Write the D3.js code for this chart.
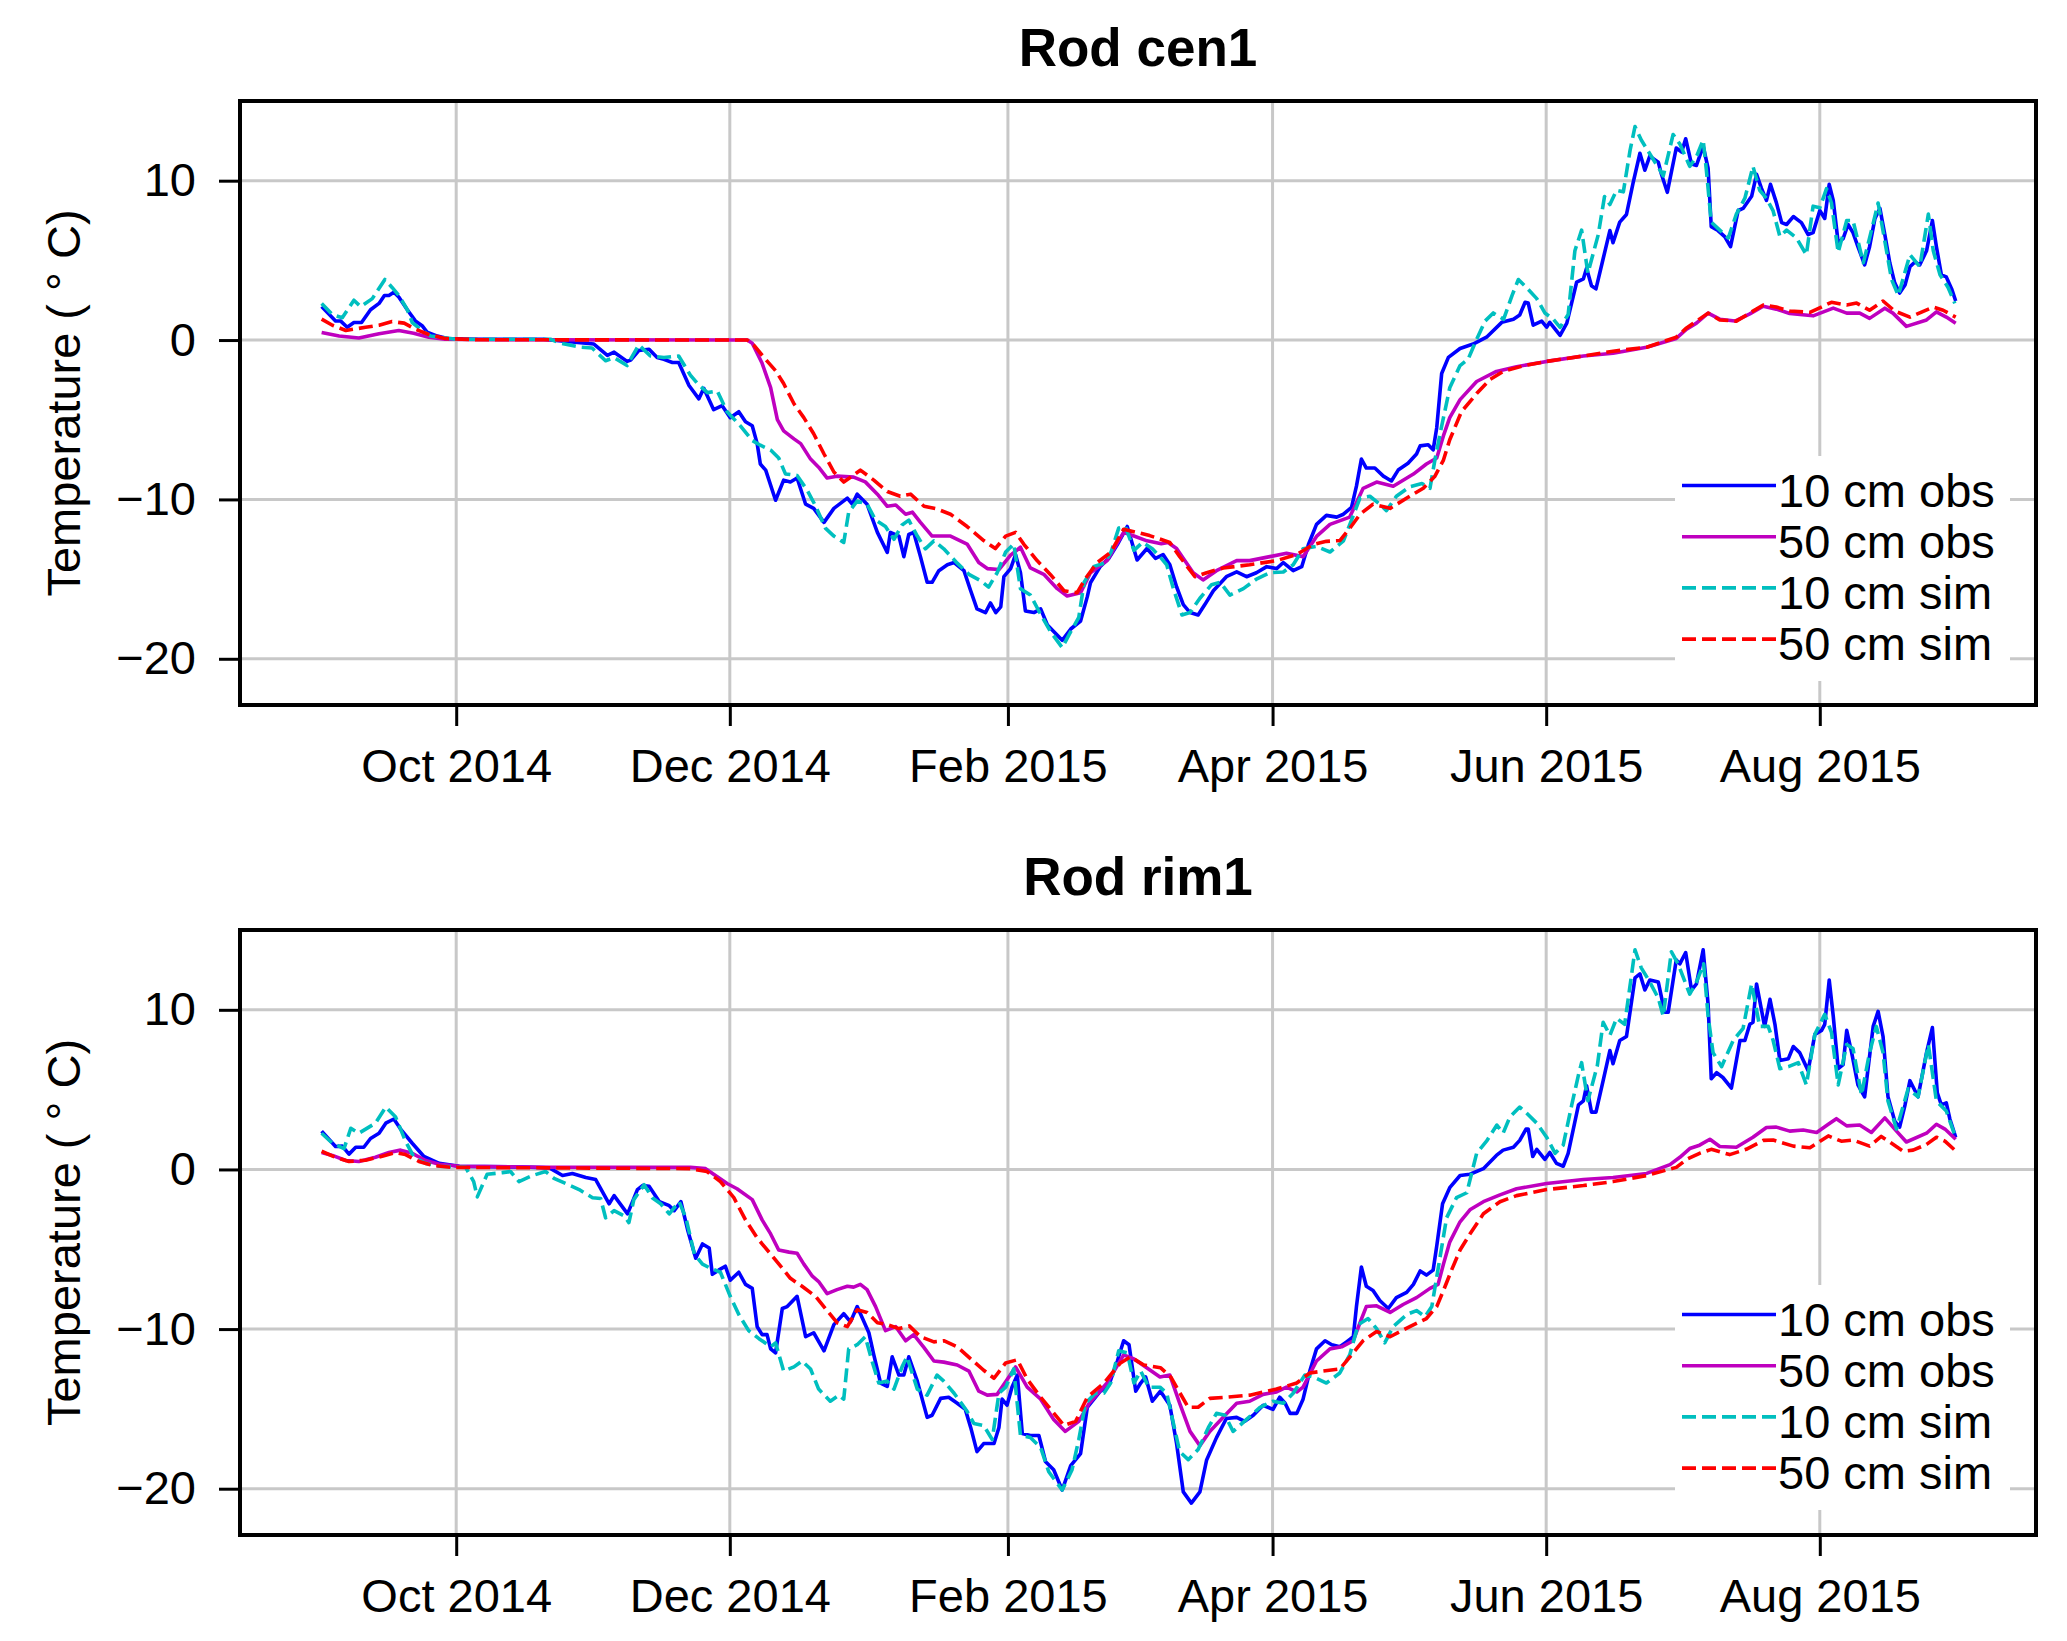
<!DOCTYPE html>
<html><head><meta charset="utf-8">
<script src="https://cdn.jsdelivr.net/npm/d3@7"></script>
<style>
body{margin:0;background:#fff}
svg{display:block}
text{font-family:"Liberation Sans",Arial,Helvetica,sans-serif;fill:#000}
</style>
</head><body>
<svg id="chart" width="2067" height="1641"></svg>
<script>
// ---------- data (day offset from 2014-09-01, temperature in °C) ----------
const startDay = "2014-09-01";
const panelTitles = ["Rod cen1", "Rod rim1"];
const seriesNames = ["10 cm obs", "50 cm obs", "10 cm sim", "50 cm sim"];
const xTickDates = ["2014-10-01","2014-12-01","2015-02-01","2015-04-01","2015-06-01","2015-08-01"];
const xTickLabels = ["Oct 2014","Dec 2014","Feb 2015","Apr 2015","Jun 2015","Aug 2015"];
const yTickValues = [-20, -10, 0, 10];
const yLabel = "Temperature ( \u00B0 C)";

const cen1Obs10 = [[0,2.1],[3.1,1.2],[4.2,1.2],[5.7,0.8],[7.2,1.1],[8.9,1.1],[10.9,1.9],[12.8,2.3],[14,2.8],[15,2.8],[16.1,3.0],[17.2,2.7],[19.1,1.9],[20.9,1.2],[22.4,0.9],[23.5,0.5],[25.8,0.25],[28,0.1],[35,0.05],[49.5,0.05],[54,-0.08],[60.7,-0.25],[63.7,-0.96],[65.2,-0.76],[68.1,-1.34],[68.9,-1.26],[70.7,-0.66],[73,-0.58],[74.8,-1.09],[76.3,-1.21],[78.2,-1.41],[79.6,-1.41],[81.9,-2.85],[84.1,-3.69],[85.2,-3.03],[87.4,-4.37],[89.3,-4.12],[91.1,-4.87],[93,-4.5],[94.5,-5.13],[96,-5.38],[97.1,-6.5],[97.8,-7.78],[99,-8.16],[101.2,-10.05],[103,-8.79],[104.5,-8.91],[106,-8.66],[107.9,-10.3],[109.7,-10.56],[112,-11.44],[114.2,-10.56],[117.2,-9.92],[118.3,-10.3],[119.4,-9.67],[121.6,-10.3],[123.9,-12.07],[126.1,-13.33],[126.8,-12.07],[128.7,-12.3],[129.8,-13.59],[130.9,-12.2],[132,-12.07],[133.5,-13.59],[135,-15.2],[136.1,-15.2],[137.6,-14.47],[139.5,-14.1],[141,-13.96],[143.2,-14.47],[144.7,-15.73],[146.1,-16.87],[148,-17.1],[149.1,-16.5],[150.3,-17.1],[151.4,-16.74],[152.1,-14.85],[153.6,-14.34],[154.7,-13.46],[155.8,-14.6],[156.9,-17.0],[158.8,-17.1],[160.3,-16.87],[161.8,-17.88],[165.1,-18.84],[167,-18.13],[169.2,-17.63],[170.7,-16.1],[171.4,-15.23],[173.6,-14.2],[175.5,-13.7],[177.4,-12.83],[179.6,-11.7],[181.8,-13.8],[184,-13.08],[185.9,-13.7],[187.6,-13.46],[189.1,-14.1],[190.6,-15.48],[192.1,-16.6],[193.6,-17.1],[195.4,-17.25],[196.9,-16.6],[198.8,-15.73],[201.7,-14.85],[204,-14.55],[206.2,-14.85],[208.4,-14.6],[210.7,-14.22],[212.9,-14.34],[214.4,-13.96],[216.6,-14.47],[218.5,-14.22],[220,-12.83],[221.8,-11.57],[224,-11.0],[226.3,-11.11],[227.8,-10.93],[229.6,-10.5],[230.7,-9.17],[231.8,-7.47],[232.9,-8.03],[234.8,-8.03],[236.7,-8.54],[238.5,-8.84],[240,-8.16],[242.2,-7.73],[244.1,-7.15],[244.9,-6.64],[246.7,-6.57],[247.8,-6.89],[248.6,-5.5],[249.7,-2.1],[251.2,-1.09],[253.8,-0.53],[256.7,-0.25],[259.7,0.18],[263.1,1.11],[265.7,1.31],[267.1,1.57],[268.3,2.37],[269,2.32],[270.1,0.93],[272,1.19],[273.1,0.81],[273.8,1.11],[276.1,0.3],[277.6,1.06],[279.8,3.64],[281.3,3.84],[282,4.5],[283.1,3.41],[284.1,3.21],[285.7,5.1],[287.2,6.87],[287.9,6.11],[289.4,7.4],[290.9,7.88],[292.4,9.9],[293.9,11.72],[295,10.66],[296.1,11.54],[298,11.16],[298.7,10.4],[300,9.27],[302,12.05],[303.2,11.8],[304.1,12.63],[305.4,11.04],[306.5,10.96],[308,12.17],[309.1,10.78],[309.8,7.12],[311.3,6.87],[312.8,6.49],[314.1,5.86],[315.8,8.13],[316.9,8.26],[318.8,9.02],[319.9,10.4],[321,9.52],[322.1,8.76],[323,9.77],[324.3,8.64],[325.5,7.37],[326.6,7.25],[328.1,7.75],[329.9,7.37],[331.4,6.62],[332.5,6.74],[334,8.13],[335.1,7.63],[336.1,9.77],[337,8.76],[338.1,6.11],[339.2,6.36],[340.3,7.25],[341.4,6.74],[342.5,5.86],[344,4.72],[345.1,5.86],[346.3,7.63],[347.4,8.26],[348.5,6.62],[349.6,4.85],[350.7,3.59],[351.8,2.95],[353,3.46],[354.1,4.6],[355.2,4.9],[356.3,4.72],[357.8,5.6],[359.1,7.5],[360,5.86],[361.1,4.09],[362.2,3.96],[363.4,3.21],[364.3,2.45]];

const cen1Obs50 = [[0,0.48],[3.9,0.25],[8.3,0.13],[12.8,0.4],[17.2,0.6],[20.5,0.43],[23.9,0.18],[27.5,0.05],[40,0.02],[94.9,0],[96,-0.2],[98.2,-1.46],[100.1,-2.98],[101.6,-5.0],[103,-5.7],[105.3,-6.2],[106.8,-6.5],[109,-7.47],[110.8,-7.98],[112.7,-8.66],[114.9,-8.54],[118.6,-8.6],[121.2,-8.9],[123.9,-9.67],[126.1,-10.43],[128,-10.35],[130.2,-10.93],[131.7,-10.8],[133.5,-11.44],[136.1,-12.3],[140.2,-12.3],[143.9,-12.8],[146.5,-13.96],[148.4,-14.34],[151,-14.4],[153.6,-13.5],[155.8,-13.0],[158,-14.3],[161,-14.7],[164,-15.6],[166.2,-16.06],[169.2,-15.86],[171.4,-14.6],[175.1,-13.84],[178.8,-12.07],[181.1,-12.3],[184,-12.6],[187.2,-12.78],[188.7,-12.7],[190.6,-13.08],[194.3,-14.6],[196.5,-15.05],[199.5,-14.47],[204,-13.84],[206.9,-13.84],[211.4,-13.59],[215.1,-13.38],[218.8,-13.59],[221.8,-12.32],[224.8,-11.57],[229.2,-11.11],[232.2,-9.3],[235.2,-8.91],[238.9,-9.17],[243.4,-8.41],[246.3,-7.78],[248.6,-7.4],[250.1,-6.0],[251.5,-4.87],[253.8,-3.74],[257.5,-2.6],[261.9,-1.97],[266.4,-1.67],[273.1,-1.34],[281.3,-1.0],[287.9,-0.83],[295.4,-0.45],[302,0.1],[304.3,0.68],[306.5,1.06],[309.1,1.69],[311.7,1.31],[315.1,1.19],[318.4,1.64],[321.4,2.12],[324.3,1.94],[327.3,1.67],[332.5,1.52],[337,2.0],[340,1.69],[342.9,1.69],[345.1,1.36],[348.5,2.0],[350.3,1.69],[353.3,0.86],[357.8,1.26],[360,1.77],[362.2,1.44],[364.3,1.06]];

const cen1Sim10 = [[0,2.3],[2.4,1.6],[4.6,1.4],[7.2,2.5],[8.7,2.1],[11.3,2.6],[14.1,3.8],[15.7,3.3],[17.2,2.8],[19.1,1.9],[20.2,1.1],[22.4,0.6],[24.3,0.25],[30,0.05],[51,0.05],[53.3,-0.2],[57.7,-0.45],[60.3,-0.5],[63.3,-1.3],[65.2,-1.1],[68.1,-1.6],[70.7,-0.3],[73.3,-1.0],[76.3,-1.1],[79.6,-1.0],[82.2,-2.2],[83.7,-2.7],[86,-3.3],[88.2,-3.2],[90.4,-4.5],[93.4,-5.4],[96,-6.3],[97.8,-6.6],[100.1,-6.9],[101.9,-7.4],[103.4,-8.4],[106,-8.5],[108.2,-9.4],[110.1,-10.4],[112.3,-11.8],[114.2,-12.3],[116.4,-12.7],[117.5,-10.8],[119.4,-10.1],[121.6,-10.3],[123.5,-11.3],[125.7,-11.7],[127.6,-12.5],[129.4,-11.6],[130.9,-11.3],[132.8,-12.3],[134.6,-13.1],[136.5,-12.6],[138.7,-13.1],[141.7,-14.0],[144.3,-14.7],[146.9,-15.1],[148.7,-15.5],[150.6,-14.6],[152.5,-13.3],[154.3,-12.8],[155.8,-15.6],[158,-16.0],[159.9,-17.0],[162.5,-18.3],[165.1,-19.3],[167,-18.3],[168.8,-17.4],[170,-15.2],[172.2,-14.2],[174.5,-14.0],[176,-13.3],[177.7,-11.8],[179.2,-11.7],[181.1,-13.2],[183,-12.7],[185.2,-13.1],[187.2,-13.7],[188.4,-14.1],[189.9,-15.6],[191.8,-17.25],[193.6,-17.1],[195.8,-16.2],[198.4,-15.35],[200.3,-15.2],[202.5,-16.0],[205.5,-15.6],[208.4,-15.0],[211.4,-14.6],[214.4,-14.55],[216.6,-14.1],[218.8,-13.1],[221.8,-12.95],[224.8,-13.3],[227.8,-12.6],[229.6,-11.3],[231.5,-9.9],[233.7,-9.8],[235.9,-10.3],[237.4,-10.7],[239.6,-9.8],[242.6,-9.2],[245.3,-9.0],[247.1,-9.3],[248.2,-7.5],[249.7,-5.4],[251.5,-3.0],[253.8,-1.6],[255.6,-1.2],[257.5,0.05],[259.4,1.2],[261.2,1.7],[263.5,1.3],[265.4,2.8],[266.8,3.8],[268.6,3.3],[270.9,2.6],[272.7,1.7],[274.6,1.3],[276.1,0.8],[277.9,1.6],[279.4,5.6],[280.9,6.9],[282.3,4.2],[284.6,6.6],[286,9.0],[287.2,8.5],[288.7,9.4],[290.2,9.3],[291.7,11.9],[292.8,13.4],[294.2,12.55],[296.5,11.5],[298.3,10.7],[299.1,10.3],[301.3,12.9],[302.8,12.3],[305,10.9],[306.5,11.5],[308,12.55],[308.7,10.7],[309.8,7.4],[311.7,6.9],[313.6,6.4],[315.4,7.9],[317.3,8.9],[319.1,10.9],[320.6,9.4],[322.1,8.9],[323.6,8.1],[325.1,6.5],[326.6,6.9],[328.8,6.4],[331,5.35],[332.5,8.4],[334,8.3],[335.5,9.5],[336.6,8.6],[338.1,5.5],[340,7.5],[341.4,7.5],[343.7,4.85],[345.1,6.4],[347,8.6],[348.5,6.2],[350,3.8],[351.5,2.8],[354.1,5.35],[356.3,4.6],[358.2,7.9],[359.3,5.6],[360.8,4.1],[362.6,3.3],[364.1,2.3]];

const cen1Sim50 = [[0,1.31],[2.4,0.93],[5.4,0.6],[9.8,0.8],[12.8,0.93],[15.7,1.16],[18.4,1.06],[20.9,0.68],[23.9,0.35],[27.5,0.1],[35,0.02],[94.9,0],[96.4,-0.33],[98.6,-1.09],[101.2,-1.92],[103,-2.73],[105.3,-4.0],[107.5,-4.87],[109.7,-5.88],[112,-7.15],[114.2,-8.28],[116.4,-8.91],[118.3,-8.54],[120.1,-8.16],[123.1,-8.79],[126.1,-9.5],[129,-9.8],[131.3,-9.67],[134.3,-10.43],[137.2,-10.6],[140.2,-10.93],[143.9,-11.7],[147.6,-12.58],[150.2,-13.08],[152.5,-12.3],[154.7,-12.07],[156.6,-12.83],[159.5,-13.84],[162.5,-14.72],[165.5,-15.73],[168.4,-15.86],[170.3,-14.97],[172.9,-13.96],[175.9,-13.33],[178.8,-11.87],[181.8,-12.07],[184.6,-12.27],[189.1,-12.7],[191.3,-13.59],[194.7,-14.85],[197.3,-14.6],[201,-14.3],[206.9,-14.1],[212.9,-13.84],[217.4,-13.46],[221.1,-12.83],[224,-12.63],[227,-12.58],[229.2,-11.82],[231.5,-10.93],[234.4,-10.3],[238.2,-10.56],[242.6,-9.8],[245.6,-9.3],[248.2,-8.54],[250.1,-7.53],[251.5,-6.26],[254.1,-4.5],[257.5,-3.36],[260.5,-2.47],[263.4,-1.97],[267.9,-1.62],[273.1,-1.34],[281.3,-1.0],[287.9,-0.7],[295.4,-0.45],[302,0.18],[304.3,0.76],[309.1,1.69],[311.7,1.26],[315.4,1.19],[321.4,2.2],[324.3,2.07],[327.3,1.82],[331.8,1.74],[336.6,2.37],[340,2.2],[342.2,2.32],[345.1,1.87],[348.1,2.45],[350.7,1.82],[354.1,1.44],[359.3,2.07],[361.5,1.87],[364.3,1.44]];

const rim1Obs10 = [[0,2.4],[3.1,1.44],[4.6,1.46],[6.1,0.96],[7.6,1.39],[9.4,1.39],[10.9,1.94],[12.8,2.27],[14.3,2.9],[16.1,3.16],[17.6,2.53],[20.2,1.64],[22.8,0.81],[26.2,0.38],[30.7,0.2],[45,0.15],[50.8,0.1],[53.7,-0.38],[55.9,-0.25],[58.9,-0.5],[61.1,-0.63],[64.1,-2.15],[65.2,-1.64],[68.2,-2.78],[70.4,-1.26],[71.6,-1.0],[73,-1.06],[75.3,-2.02],[77.5,-2.27],[78.6,-2.58],[80.1,-2.02],[81.6,-3.79],[83.4,-5.56],[84.9,-4.67],[86.4,-4.92],[87.1,-6.57],[88.5,-6.31],[90,-6.06],[91.1,-6.94],[93,-6.44],[94.5,-7.2],[96,-7.45],[97.1,-9.85],[98.2,-10.35],[99.3,-10.35],[100.1,-11.24],[101.2,-11.49],[102.7,-8.71],[103.8,-8.59],[106,-7.95],[107.9,-10.48],[109.7,-10.23],[112,-11.36],[114.2,-9.72],[116.4,-9.04],[117.9,-9.55],[119.4,-8.59],[122,-10.23],[123.1,-11.62],[124.6,-13.38],[126.1,-13.59],[127.2,-11.74],[128.7,-12.88],[129.8,-12.88],[130.9,-11.74],[132.8,-13.26],[135,-15.53],[136.1,-15.4],[138,-14.34],[139.8,-14.27],[141.7,-14.65],[143.5,-15.03],[144.7,-16.16],[146.1,-17.68],[147.6,-17.17],[148.7,-17.17],[149.9,-17.17],[151,-16.16],[151.7,-14.39],[152.8,-14.77],[153.9,-13.64],[155.1,-12.88],[156.2,-16.54],[158,-16.67],[159.9,-16.67],[161.4,-18.31],[163.2,-18.81],[165.1,-20.08],[167,-18.56],[169.2,-17.8],[170.7,-14.9],[173.6,-13.89],[175.5,-13.51],[177.4,-12.0],[178.8,-10.73],[180,-10.98],[181.5,-13.89],[182.6,-13.38],[183.7,-13.0],[185.2,-14.52],[187,-13.89],[189.1,-14.77],[190.6,-17.17],[192.1,-20.2],[193.9,-20.9],[195.8,-20.2],[197.3,-18.2],[199.5,-16.8],[201.7,-15.6],[204,-15.53],[205.8,-15.78],[207.7,-15.4],[209.9,-14.77],[212.1,-15.03],[213.6,-14.27],[214.8,-14.65],[215.9,-15.28],[217.4,-15.28],[218.8,-14.39],[220.3,-12.63],[221.8,-11.24],[223.7,-10.73],[225.2,-10.98],[227,-11.11],[228.5,-10.8],[230,-10.48],[230.7,-8.59],[231.8,-6.11],[232.9,-7.32],[234.4,-7.58],[235.9,-8.21],[237.8,-8.71],[239.6,-8.03],[241.9,-7.7],[243.4,-7.2],[244.9,-6.36],[246.3,-6.62],[247.8,-6.31],[248.6,-4.8],[249.9,-2.15],[251.5,-1.14],[253.8,-0.38],[256,-0.3],[259,0.05],[261.9,0.88],[263.4,1.21],[265.7,1.39],[267.1,1.82],[268.5,2.53],[269,2.53],[270,0.81],[270.9,1.26],[272.7,0.63],[273.8,1.06],[275.3,0.38],[276.8,0.2],[277.9,1.01],[280.2,4.04],[281.3,4.29],[282,5.25],[283.1,3.59],[284.1,3.59],[285.7,5.56],[287.2,7.45],[287.9,6.62],[289.4,8.08],[290.9,8.33],[292.8,12.0],[293.9,12.25],[295,11.24],[296.1,11.87],[298,11.74],[299.4,9.85],[300.2,9.85],[302,13.13],[302.8,12.88],[304.1,13.59],[305.4,11.24],[306.5,11.62],[308,13.76],[309.1,10.35],[309.8,5.68],[311,6.06],[312.4,5.76],[314.3,5.1],[316.2,8.08],[317.3,8.08],[318.4,9.09],[319.1,9.22],[319.9,11.62],[321.7,8.96],[322.9,10.66],[324,9.09],[325.1,6.82],[327,6.94],[328.1,7.7],[329.5,7.32],[331.4,6.19],[332.9,8.46],[334.4,8.71],[335.1,9.09],[336.1,11.87],[337,9.6],[338.1,6.31],[339.2,6.57],[340,8.71],[341.1,7.32],[342.5,5.3],[344,4.55],[345.9,8.96],[347,9.9],[348.1,8.33],[349.2,4.55],[350.7,3.03],[351.8,2.65],[353,4.04],[354.1,5.56],[355.9,4.55],[357.8,7.32],[359.1,8.89],[360.2,4.8],[361.1,4.04],[362.2,4.17],[363,3.16],[364.3,2.02]];

const rim1Obs50 = [[0,1.06],[2.4,0.88],[5.4,0.56],[8.3,0.5],[12,0.76],[15,1.06],[17.6,1.21],[20.2,1.01],[23.2,0.56],[26.2,0.33],[30.7,0.2],[50,0.14],[82.2,0.13],[85.6,0.05],[87.8,-0.38],[90.4,-0.88],[92.6,-1.21],[96,-1.89],[98.2,-3.16],[100.1,-4.04],[101.9,-5.05],[104.2,-5.18],[106,-5.25],[107.5,-5.93],[109.4,-6.69],[110.8,-7.02],[112.7,-7.78],[114.9,-7.53],[117.2,-7.32],[118.6,-7.37],[120.1,-7.2],[121.6,-7.53],[123.5,-8.59],[125.7,-10.1],[128,-9.85],[130.2,-10.73],[132,-10.35],[134.3,-11.16],[136.5,-12.0],[138.7,-12.07],[141.7,-12.25],[144.3,-12.63],[146.5,-13.89],[148.4,-14.14],[150.6,-14.09],[152.8,-13.18],[154.7,-12.37],[157.3,-13.64],[160.3,-14.39],[163.2,-15.66],[165.8,-16.41],[168.8,-15.78],[171.1,-14.65],[175.1,-13.38],[178.8,-11.62],[181.1,-11.87],[183.7,-12.37],[186.9,-13.0],[189.1,-12.88],[191.3,-14.65],[193.6,-16.41],[195.8,-17.3],[198,-16.41],[201,-15.53],[204,-14.65],[206.9,-14.52],[209.9,-14.09],[212.9,-13.94],[215.1,-13.64],[217.4,-13.94],[218.8,-13.64],[221.8,-12.0],[224.8,-11.24],[227.4,-11.11],[230,-10.73],[231.5,-9.6],[232.9,-8.59],[235.2,-8.54],[238.2,-8.96],[241.1,-8.46],[244.1,-8.03],[247.1,-7.45],[248.9,-7.2],[250.1,-5.93],[251.5,-4.55],[253.8,-3.28],[256,-2.53],[259,-2.02],[262.7,-1.59],[266.4,-1.21],[273.1,-0.88],[281.3,-0.63],[287.9,-0.5],[295.4,-0.25],[300.6,0.3],[302.8,0.76],[305,1.31],[307.2,1.52],[309.5,1.89],[311.7,1.44],[315.4,1.39],[319.1,2.02],[322.1,2.63],[324.3,2.65],[327.3,2.4],[330.3,2.47],[333.3,2.32],[335.9,2.83],[337.7,3.18],[340,2.73],[342.9,2.78],[345.5,2.32],[348.5,3.23],[351.1,2.4],[353.3,1.72],[357.8,2.27],[360,2.83],[361.9,2.53],[364.3,1.89]];

const rim1Sim10 = [[0,2.27],[2.4,1.64],[5,1.31],[6.5,2.58],[8.3,2.27],[12,2.9],[14.3,3.91],[16.5,3.28],[18.7,1.77],[20.6,0.76],[23.2,0.38],[26.2,0.2],[32.1,0.13],[33.9,-0.76],[34.7,-1.72],[36.9,-0.3],[40.3,-0.2],[42.1,-0.13],[44,-0.76],[47,-0.38],[49.9,-0.13],[51.8,-0.56],[54.4,-0.88],[57.4,-1.26],[60.4,-1.77],[62.2,-1.82],[63.3,-3.03],[65.2,-2.58],[67.4,-2.9],[68.5,-3.33],[69.6,-1.89],[71.9,-0.96],[73.7,-1.77],[75.6,-2.15],[77.5,-2.78],[79.7,-2.02],[81.2,-3.03],[83.1,-5.3],[84.9,-5.93],[86.7,-6.19],[88.9,-6.44],[91.1,-7.95],[93,-9.09],[95.2,-10.1],[97.5,-10.6],[100.1,-11.11],[101.2,-10.86],[103,-12.63],[105.3,-12.37],[107.1,-12.0],[109,-12.5],[110.8,-13.76],[113.4,-14.52],[115.3,-14.14],[116.4,-14.39],[117.5,-11.24],[119.4,-10.98],[121.2,-10.48],[122.7,-12.0],[124.2,-13.38],[126.1,-13.26],[127.6,-13.76],[129.4,-12.37],[130.5,-11.74],[132.8,-13.76],[135,-14.14],[137.2,-12.88],[138.7,-13.26],[141,-14.02],[143.9,-15.15],[145.4,-15.91],[147.6,-16.04],[149.5,-16.92],[151,-14.02],[152.5,-13.64],[154.3,-12.5],[155.8,-16.67],[158,-16.79],[160.3,-17.42],[162.1,-18.94],[165.1,-20.08],[167.3,-18.81],[168.8,-16.92],[170.3,-14.65],[172.5,-14.02],[174.4,-14.02],[175.9,-13.38],[177.7,-11.36],[179.6,-11.49],[181.1,-13.38],[182.6,-12.63],[184.4,-13.64],[186.9,-13.64],[188.4,-14.02],[189.9,-15.91],[191.3,-17.68],[193.2,-18.18],[195.4,-17.55],[197.7,-16.16],[199.5,-15.28],[201.4,-15.4],[203.2,-16.41],[206.2,-15.66],[209.2,-14.9],[212.1,-14.52],[214.4,-14.65],[216.6,-14.02],[219.2,-12.88],[221.1,-13.0],[224,-13.38],[227,-12.75],[229.2,-11.62],[231.1,-9.72],[233.3,-9.34],[235.2,-9.97],[237,-10.86],[238.9,-9.85],[241.9,-9.09],[244.1,-8.84],[246,-9.22],[247.5,-8.59],[249.3,-5.56],[250.8,-3.03],[253,-1.77],[255.3,-1.46],[257.5,1.01],[259.7,1.77],[262,2.78],[263.4,2.27],[264.9,3.28],[267.1,3.91],[268.6,3.54],[270.9,2.9],[273.1,2.02],[275,1.01],[276.8,1.52],[278.7,4.04],[280.2,5.93],[280.9,6.69],[282.3,4.3],[284.4,6.5],[285.7,9.22],[287.2,8.4],[288.7,9.47],[290.5,9.09],[292.8,13.76],[294.2,12.63],[296.1,11.74],[298,10.73],[299.1,9.6],[300.9,13.64],[302.4,12.88],[305,10.98],[306.5,11.74],[308.1,12.88],[309.1,9.6],[310.2,7.32],[312.1,6.44],[314.7,8.08],[316.9,8.84],[318.8,11.62],[320.6,8.96],[322.5,8.96],[323.6,8.08],[325.1,6.31],[327,6.44],[329.2,6.69],[331,5.3],[332.9,8.46],[335.1,9.72],[336.6,8.59],[338.1,5.3],[340,7.83],[341.4,7.58],[343.3,4.67],[345.1,7.32],[346.6,8.96],[348.1,7.32],[349.2,4.29],[351.1,2.53],[353.7,5.05],[355.9,4.55],[358.2,7.83],[360,4.29],[362.2,3.66],[364.1,2.15]];

const rim1Sim50 = [[0,1.14],[3.1,0.76],[6.1,0.5],[9.8,0.58],[13.5,0.83],[16.5,1.06],[18.7,0.93],[21.7,0.5],[24.7,0.25],[29.1,0.13],[50,0.1],[82.2,0.05],[85.9,-0.13],[88.9,-0.76],[91.9,-1.77],[94.5,-3.16],[97.1,-4.29],[100.1,-5.3],[102.7,-6.19],[104.5,-6.82],[107.1,-7.32],[110.1,-7.95],[112.3,-8.71],[114.9,-9.6],[117.2,-9.85],[119.4,-8.79],[121.6,-8.96],[123.9,-9.6],[126.1,-9.72],[128.7,-9.97],[131,-9.8],[133.5,-10.48],[136.5,-10.8],[138.7,-10.73],[141.7,-11.11],[144.7,-11.87],[147.6,-12.58],[149.9,-13.08],[152.5,-12.12],[155.1,-11.92],[157.3,-13.13],[160.3,-14.27],[162.9,-15.15],[165.5,-16.04],[168.1,-15.78],[170.7,-14.27],[174.4,-13.38],[178.1,-12.12],[180.3,-11.74],[183.3,-12.25],[187,-12.42],[189.3,-13.0],[190.6,-13.64],[193.2,-14.9],[195.4,-14.9],[198,-14.34],[201.7,-14.27],[206.9,-14.14],[212.9,-13.76],[217.4,-13.38],[220.3,-12.75],[223.3,-12.63],[227,-12.5],[229.6,-11.62],[232.2,-10.73],[235.2,-10.15],[238.2,-10.48],[242.6,-9.85],[246.3,-9.34],[248.6,-8.59],[250.1,-7.58],[251.9,-6.31],[253.8,-5.05],[256,-4.04],[259,-2.78],[262.7,-2.02],[266.4,-1.64],[273.1,-1.26],[281.3,-1.01],[287.9,-0.76],[295.4,-0.38],[302,0.13],[304.3,0.63],[307.2,1.01],[309.8,1.26],[313.9,0.93],[317.6,1.26],[321.4,1.82],[323.6,1.84],[328.1,1.46],[331.8,1.36],[335.9,2.1],[338.8,1.77],[341.4,1.84],[345.1,1.46],[347.7,2.07],[350,1.64],[352.6,1.14],[354.8,1.21],[357.8,1.57],[360,2.02],[361.9,1.77],[364.1,1.21]];

// ---------- styles & layout ----------
const seriesStyle = [
  {color: "#0000ff", dash: null},
  {color: "#bf00bf", dash: null},
  {color: "#00bfbf", dash: "14,6"},
  {color: "#ff0000", dash: "14,6"}
];
const panels = [
  {title: panelTitles[0], series: [cen1Obs10, cen1Obs50, cen1Sim10, cen1Sim50], top: 101, bottom: 705, titleY: 66},
  {title: panelTitles[1], series: [rim1Obs10, rim1Obs50, rim1Sim10, rim1Sim50], top: 930, bottom: 1535, titleY: 895}
];
const left = 240, right = 2036;
const FS = 47;

const svg = d3.select("#chart");
const parseDay = d3.utcParse("%Y-%m-%d");
const t0 = parseDay(startDay).getTime();
const DAY = 864e5;
const toDate = d => new Date(t0 + d * DAY);

const lastDay = 364, pad = lastDay * 0.05;
const x = d3.scaleUtc().domain([toDate(-pad), toDate(lastDay + pad)]).range([left, right]);
const tickDates = xTickDates.map(parseDay);

panels.forEach(p => {
  const y = d3.scaleLinear().domain([-22.9, 15]).range([p.bottom, p.top]);
  const g = svg.append("g");

  // grid
  g.append("g").selectAll("line").data(tickDates).join("line")
    .attr("x1", d => x(d)).attr("x2", d => x(d))
    .attr("y1", p.top).attr("y2", p.bottom)
    .attr("stroke", "#c8c8c8").attr("stroke-width", 3);
  g.append("g").selectAll("line").data(yTickValues).join("line")
    .attr("x1", left).attr("x2", right)
    .attr("y1", d => y(d)).attr("y2", d => y(d))
    .attr("stroke", "#c8c8c8").attr("stroke-width", 3);

  // lines
  const line = d3.line().x(d => x(toDate(d[0]))).y(d => y(d[1])).curve(d3.curveLinear);
  p.series.forEach((s, i) => {
    g.append("path").datum(s)
      .attr("d", line)
      .attr("fill", "none")
      .attr("stroke", seriesStyle[i].color)
      .attr("stroke-width", 3.6)
      .attr("stroke-linejoin", "round")
      .attr("stroke-dasharray", seriesStyle[i].dash);
  });

  // legend
  const lgTop = p.top + 355;
  g.append("rect").attr("x", 1675).attr("y", lgTop).attr("width", 335).attr("height", 225).attr("fill", "#fff");
  seriesNames.forEach((name, i) => {
    const ly = p.top + 384.5 + i * 51.2;
    g.append("line").attr("x1", 1682).attr("x2", 1776).attr("y1", ly).attr("y2", ly)
      .attr("stroke", seriesStyle[i].color).attr("stroke-width", 3.6)
      .attr("stroke-dasharray", seriesStyle[i].dash);
    g.append("text").attr("x", 1778).attr("y", ly + 21).attr("font-size", FS).text(name);
  });

  // axes
  const xAxis = d3.axisBottom(x).tickValues(tickDates)
    .tickFormat((d, i) => xTickLabels[i]).tickSize(21).tickPadding(22.5);
  const gx = g.append("g").attr("transform", `translate(0,${p.bottom})`).call(xAxis);
  gx.select(".domain").remove();
  gx.selectAll(".tick line").attr("stroke", "#000").attr("stroke-width", 3);
  gx.selectAll(".tick text").attr("font-size", FS).attr("font-family", null).attr("fill", "#000");

  const yAxis = d3.axisLeft(y).tickValues(yTickValues).tickSize(21).tickPadding(23);
  const gy = g.append("g").attr("transform", `translate(${left},0)`).call(yAxis);
  gy.select(".domain").remove();
  gy.selectAll(".tick line").attr("stroke", "#000").attr("stroke-width", 3);
  gy.selectAll(".tick text").attr("font-size", FS).attr("font-family", null).attr("fill", "#000");

  // frame
  g.append("rect").attr("x", left).attr("y", p.top)
    .attr("width", right - left).attr("height", p.bottom - p.top)
    .attr("fill", "none").attr("stroke", "#000").attr("stroke-width", 4);

  // y label
  g.append("text")
    .attr("transform", `translate(80,${(p.top + p.bottom) / 2}) rotate(-90)`)
    .attr("text-anchor", "middle").attr("font-size", FS).text(yLabel);

  // title
  g.append("text").attr("x", (left + right) / 2).attr("y", p.titleY)
    .attr("text-anchor", "middle").attr("font-size", 53).attr("font-weight", "bold").text(p.title);
});
</script>
</body></html>
